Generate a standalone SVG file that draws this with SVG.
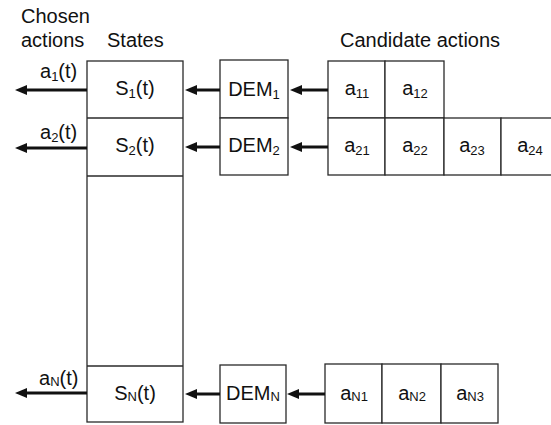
<svg xmlns="http://www.w3.org/2000/svg" width="551" height="425" viewBox="0 0 551 425">
  <defs>
    <style>
      .box { fill: #ffffff; stroke: #2a2a2a; stroke-width: 1.3; }
      .div { stroke: #2a2a2a; stroke-width: 1.3; fill: none; }
      .lbl { font-family: "Liberation Sans", Arial, sans-serif; font-size: 20px; fill: #111; }
      .mid { text-anchor: middle; }
      .sub { font-size: 13px; }
      .wire { stroke: #111; stroke-width: 3; fill: none; marker-end: url(#head); }
    </style>
    <marker id="head" viewBox="0 0 12 10" refX="2" refY="5" markerWidth="12" markerHeight="10" markerUnits="userSpaceOnUse" orient="auto">
      <path d="M0,0 L12,5 L0,10 Z" fill="#111"/>
    </marker>
  </defs>

  <!-- column headings -->
  <g id="headings" class="lbl">
    <text x="21" y="23">Chosen</text>
    <text x="21" y="47">actions</text>
    <text x="107" y="47">States</text>
    <text x="340" y="47">Candidate actions</text>
  </g>

  <!-- state column: one tall cell with row dividers -->
  <g id="states">
    <rect class="box" x="87" y="61" width="96" height="361"/>
    <line class="div" x1="87" y1="118" x2="183" y2="118"/>
    <line class="div" x1="87" y1="176" x2="183" y2="176"/>
    <line class="div" x1="87" y1="366" x2="183" y2="366"/>
    <g id="state-1" class="lbl mid"><text x="135" y="95">S<tspan class="sub" dy="3">1</tspan><tspan dy="-3">(t)</tspan></text></g>
    <g id="state-2" class="lbl mid"><text x="135" y="152">S<tspan class="sub" dy="3">2</tspan><tspan dy="-3">(t)</tspan></text></g>
    <g id="state-N" class="lbl mid"><text x="135" y="400">S<tspan class="sub" dy="1">N</tspan><tspan dy="-1">(t)</tspan></text></g>
  </g>

  <!-- decision modules -->
  <g id="dem-1">
    <rect class="box" x="220" y="60" width="68" height="58"/>
    <text class="lbl mid" x="254" y="96">DEM<tspan class="sub" dy="3">1</tspan></text>
  </g>
  <g id="dem-2">
    <rect class="box" x="220" y="118" width="68" height="57"/>
    <text class="lbl mid" x="254" y="152">DEM<tspan class="sub" dy="3">2</tspan></text>
  </g>
  <g id="dem-N">
    <rect class="box" x="220" y="365" width="66" height="58"/>
    <text class="lbl mid" x="253" y="400">DEM<tspan class="sub" dy="1">N</tspan></text>
  </g>

  <!-- candidate action cells -->
  <g id="cand-1">
    <rect class="box" x="328" y="61" width="57" height="57"/>
    <rect class="box" x="385" y="61" width="59" height="57"/>
    <text class="lbl mid" x="357" y="95">a<tspan class="sub" dy="3">11</tspan></text>
    <text class="lbl mid" x="415" y="95">a<tspan class="sub" dy="3">12</tspan></text>
  </g>
  <g id="cand-2">
    <rect class="box" x="328" y="118" width="57" height="57"/>
    <rect class="box" x="385" y="118" width="59" height="57"/>
    <rect class="box" x="444" y="118" width="57" height="57"/>
    <rect class="box" x="501" y="118" width="58" height="57"/>
    <text class="lbl mid" x="357" y="152">a<tspan class="sub" dy="3">21</tspan></text>
    <text class="lbl mid" x="415" y="152">a<tspan class="sub" dy="3">22</tspan></text>
    <text class="lbl mid" x="472" y="152">a<tspan class="sub" dy="3">23</tspan></text>
    <text class="lbl mid" x="530" y="152">a<tspan class="sub" dy="3">24</tspan></text>
  </g>
  <g id="cand-N">
    <rect class="box" x="325" y="364" width="57" height="59"/>
    <rect class="box" x="382" y="364" width="59" height="59"/>
    <rect class="box" x="441" y="364" width="57" height="59"/>
    <text class="lbl mid" x="354" y="400">a<tspan class="sub" dy="1">N1</tspan></text>
    <text class="lbl mid" x="412" y="400">a<tspan class="sub" dy="1">N2</tspan></text>
    <text class="lbl mid" x="470" y="400">a<tspan class="sub" dy="1">N3</tspan></text>
  </g>

  <!-- chosen action labels -->
  <g id="chosen" class="lbl">
    <text x="40" y="78">a<tspan class="sub" dy="3">1</tspan><tspan dy="-3">(t)</tspan></text>
    <text x="40" y="139">a<tspan class="sub" dy="3">2</tspan><tspan dy="-3">(t)</tspan></text>
    <text x="39" y="385">a<tspan class="sub" dy="1">N</tspan><tspan dy="-1">(t)</tspan></text>
  </g>

  <!-- connectors -->
  <g id="connectors">
    <line class="wire" x1="87" y1="90" x2="25" y2="90"/>
    <line class="wire" x1="87" y1="148" x2="25" y2="148"/>
    <line class="wire" x1="87" y1="393" x2="25" y2="393"/>
    <line class="wire" x1="220" y1="90" x2="195" y2="90"/>
    <line class="wire" x1="220" y1="147" x2="195" y2="147"/>
    <line class="wire" x1="220" y1="394" x2="195" y2="394"/>
    <line class="wire" x1="328" y1="90" x2="300" y2="90"/>
    <line class="wire" x1="328" y1="147" x2="300" y2="147"/>
    <line class="wire" x1="325" y1="394" x2="297" y2="394"/>
  </g>
</svg>
